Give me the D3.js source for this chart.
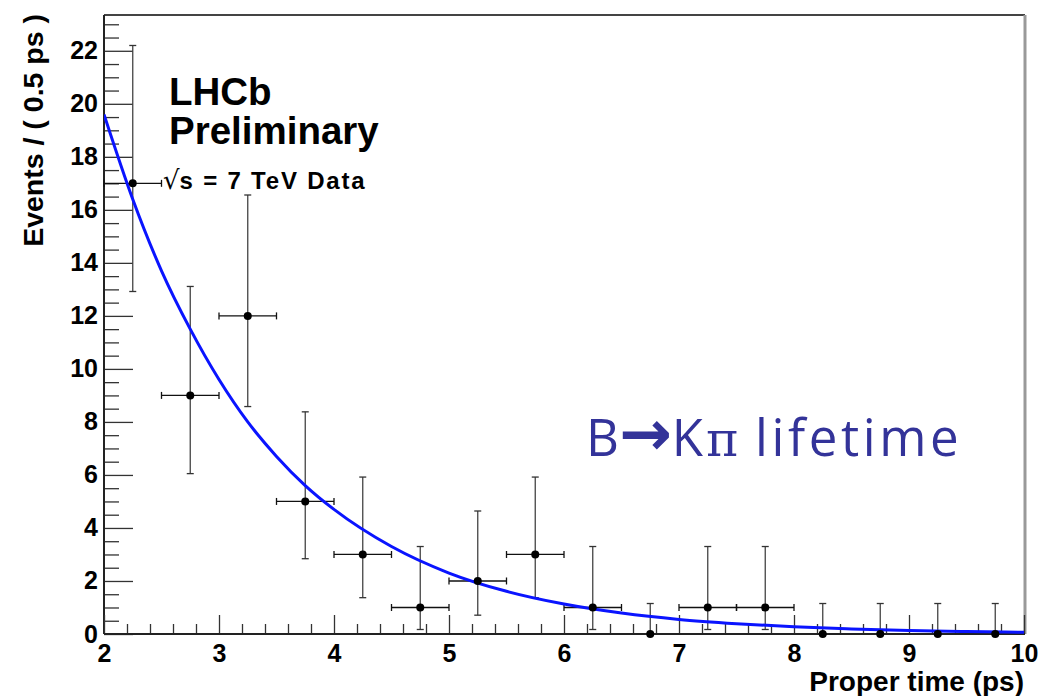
<!DOCTYPE html>
<html><head><meta charset="utf-8">
<script src="https://d3js.org/d3.v7.min.js"></script>
<style>
html,body{margin:0;padding:0;background:#fff;}
svg{display:block;}
</style></head>
<body>
<svg id="c" width="1043" height="696" font-family="Liberation Sans, Arial, Helvetica, sans-serif"></svg>
<script>
// ---- data ----
const binCenters = [2.25,2.75,3.25,3.75,4.25,4.75,5.25,5.75,6.25,6.75,7.25,7.75,8.25,8.75,9.25,9.75];
const counts     = [17,9,12,5,3,1,2,3,1,0,1,1,0,0,0,0];
const errUp      = [5.20,4.11,4.56,3.38,2.92,2.30,2.64,2.92,2.30,1.15,2.30,2.30,1.15,1.15,1.15,1.15];
const errDown    = [4.08,2.95,3.42,2.16,1.63,0.83,1.29,1.63,0.83,0,0.83,0.83,0,0,0,0];
const binHalfWidth = 0.25;
const fitT   = [2,2.25,2.5,2.75,3,3.25,3.5,3.75,4,4.5,5,5.5,6,6.5,7,7.5,8,8.5,9,9.5,10];
const fitVal = [19.6,16.4,13.7,11.5,9.6,8.0,6.7,5.6,4.7,3.3,2.3,1.61,1.13,0.79,0.55,0.39,0.27,0.19,0.13,0.09,0.065];
const xTicks = [2,3,4,5,6,7,8,9,10];
const yTicks = [0,2,4,6,8,10,12,14,16,18,20,22];
const xTitle = "Proper time (ps)";
const yTitle = "Events / ( 0.5 ps )";

const svg = d3.select("#c");
const L = 104, R = 1024, T = 15, B = 634;
const x = d3.scaleLinear().domain([2,10]).range([L,R]);
const y = d3.scaleLinear().domain([0,23.35]).range([B,T]);

// frame top/right
svg.append("line").attr("x1",L).attr("x2",R+1).attr("y1",T).attr("y2",T).attr("stroke","#444").attr("stroke-width",2);
svg.append("line").attr("x1",R+1).attr("x2",R+1).attr("y1",T).attr("y2",B).attr("stroke","#999").attr("stroke-width",3);

// y axis (ticks pointing into the plot)
const yAx = d3.axisRight(y).tickValues(d3.range(0,23.01,0.5)).tickSize(0).tickFormat("");
const yg = svg.append("g").attr("transform",`translate(${L},0)`);
yg.call(yAx);
yg.select(".domain").remove();
yg.selectAll(".tick line")
  .attr("x2", d => (Math.abs(d % 2) < 1e-6 ? 29 : 15))
  .attr("stroke", "#333").attr("stroke-width",1.3);
svg.append("line").attr("x1",L).attr("x2",L).attr("y1",T).attr("y2",B).attr("stroke","#222").attr("stroke-width",2);

// y labels
const yl = d3.axisLeft(y).tickValues(yTicks).tickSize(0).tickPadding(6).tickFormat(d3.format("d"));
const ylg = svg.append("g").attr("transform",`translate(${L},0)`).call(yl);
ylg.select(".domain").remove();
ylg.attr("font-size",25).attr("font-family","Liberation Sans, Arial, sans-serif");
ylg.selectAll("text").attr("font-weight","bold").attr("fill","#000");

// x axis (ticks pointing up)
const xAx = d3.axisTop(x).tickValues(d3.range(2,10.001,0.2)).tickSize(0).tickFormat("");
const xg = svg.append("g").attr("transform",`translate(0,${B})`).call(xAx);
xg.select(".domain").remove();
xg.selectAll(".tick line")
  .attr("y2", d => (Math.abs(d - Math.round(d)) < 1e-6 ? -19 : -10))
  .attr("stroke","#333").attr("stroke-width",1.3);
svg.append("line").attr("x1",L).attr("x2",R+1).attr("y1",B).attr("y2",B).attr("stroke","#222").attr("stroke-width",2);

const xl = d3.axisBottom(x).tickValues(xTicks).tickSize(0).tickPadding(10).tickFormat(d3.format("d"));
const xlg = svg.append("g").attr("transform",`translate(0,${B})`).call(xl);
xlg.select(".domain").remove();
xlg.attr("font-size",25).attr("font-family","Liberation Sans, Arial, sans-serif");
xlg.selectAll("text").attr("font-weight","bold").attr("fill","#000");

// axis titles
svg.append("text").attr("x",R).attr("y",691).attr("text-anchor","end")
  .attr("font-size",28).attr("font-weight","bold").text(xTitle);
svg.append("text").attr("transform","translate(43,14) rotate(-90)").attr("text-anchor","end")
  .attr("font-size",28.5).attr("font-weight","bold").text(yTitle);

// clip for fit curve
svg.append("clipPath").attr("id","pc").append("rect").attr("x",L).attr("y",T).attr("width",R-L).attr("height",B-T);

// data error bars
const pts = binCenters.map((t,i)=>({t, v:counts[i], up:errUp[i], dn:errDown[i]}));
const eb = svg.append("g");
pts.forEach(p=>{
  const cx = x(p.t), cy = y(p.v);
  eb.append("line").attr("x1",cx).attr("x2",cx).attr("y1",y(p.v+p.up)).attr("y2",y(p.v-p.dn)).attr("stroke","#444").attr("stroke-width",1.3);
  eb.append("line").attr("x1",cx-3.5).attr("x2",cx+3.5).attr("y1",y(p.v+p.up)).attr("y2",y(p.v+p.up)).attr("stroke","#333").attr("stroke-width",1.3);
  if (p.dn>0) eb.append("line").attr("x1",cx-3.5).attr("x2",cx+3.5).attr("y1",y(p.v-p.dn)).attr("y2",y(p.v-p.dn)).attr("stroke","#333").attr("stroke-width",1.3);
  if (p.v>0) {
    const x0 = x(p.t-binHalfWidth), x1 = x(p.t+binHalfWidth);
    eb.append("line").attr("x1",x0).attr("x2",x1).attr("y1",cy).attr("y2",cy).attr("stroke","#111").attr("stroke-width",1.3);
    eb.append("line").attr("x1",x0).attr("x2",x0).attr("y1",cy-3.5).attr("y2",cy+3.5).attr("stroke","#111").attr("stroke-width",1.3);
    eb.append("line").attr("x1",x1).attr("x2",x1).attr("y1",cy-3.5).attr("y2",cy+3.5).attr("stroke","#111").attr("stroke-width",1.3);
  }
});

// fit curve
const line = d3.line().x((d,i)=>x(fitT[i])).y(d=>y(d)).curve(d3.curveMonotoneX);
svg.append("path").datum(fitVal).attr("d",line).attr("fill","none").attr("stroke","#0a14ff")
  .attr("stroke-width",3).attr("clip-path","url(#pc)");

// points
svg.append("g").selectAll("circle").data(pts).join("circle")
  .attr("cx",d=>x(d.t)).attr("cy",d=>y(d.v)).attr("r",4).attr("fill","#000");

// labels
svg.append("text").attr("x",169).attr("y",105).attr("font-size",38.5).attr("font-weight","bold").text("LHCb");
svg.append("text").attr("x",169).attr("y",144).attr("font-size",38.5).attr("font-weight","bold").text("Preliminary");
const s = svg.append("text").attr("x",163).attr("y",189).attr("font-size",24).attr("font-weight","bold");
s.append("tspan").attr("font-weight","normal").attr("font-family","DejaVu Sans").attr("font-size",26).text("√");
s.append("tspan").attr("letter-spacing",1.8).text("s = 7 TeV Data");

const b = svg.append("text").attr("x",586).attr("y",456).attr("font-size",51).attr("fill","#333399")
  .attr("font-family","Open Sans, Lato, sans-serif");
b.append("tspan").text("B");
b.append("tspan").attr("font-weight","bold").attr("font-family","DejaVu Sans").attr("font-size",63).attr("dy",-1).text("→");
b.append("tspan").attr("dy",1).text("K");
b.append("tspan").attr("font-family","DejaVu Serif").attr("font-size",49).attr("dx",3).text("π");
b.append("tspan").attr("letter-spacing",3.6).text(" lifetime");
</script>
</body></html>
